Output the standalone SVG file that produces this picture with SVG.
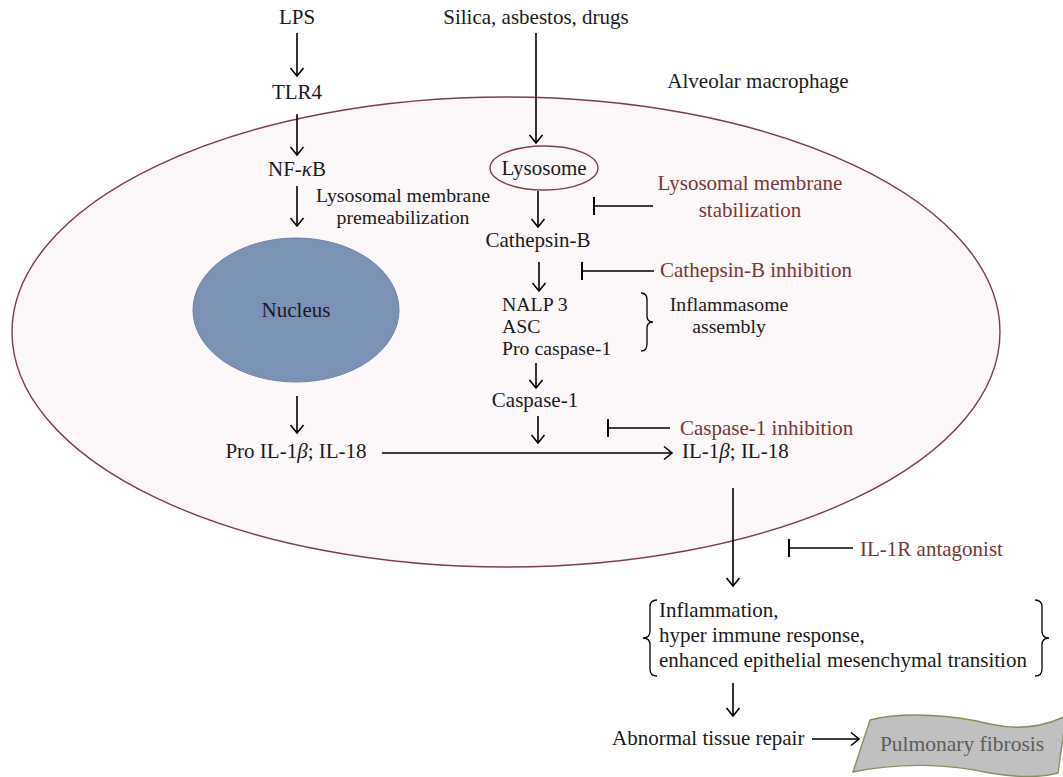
<svg xmlns="http://www.w3.org/2000/svg" width="1063" height="777" viewBox="0 0 1063 777">
<style>
text{font-family:"Liberation Serif","Times New Roman",serif;font-size:21px;fill:#1a1a1a}
.c{text-anchor:middle}
.s{font-size:19.8px}
.inh{fill:#7a3535}
.ln{fill:none;stroke:#000;stroke-width:1.6}
.ar{marker-end:url(#ah)}
.tb{marker-end:url(#tee)}
.br{fill:none;stroke:#000;stroke-width:1.3}
</style>
<defs>
<marker id="ah" viewBox="-10 -10 20 20" markerWidth="20" markerHeight="20" refX="0" refY="0" orient="auto" markerUnits="userSpaceOnUse">
<path d="M-8,-6.5 L0,0 L-8,6.5" fill="none" stroke="#000" stroke-width="1.6"/>
</marker>
<marker id="tee" viewBox="-10 -10 20 20" markerWidth="20" markerHeight="20" refX="0" refY="0" orient="auto" markerUnits="userSpaceOnUse">
<path d="M0,-9 L0,9" fill="none" stroke="#000" stroke-width="2"/>
</marker>
</defs>
<rect width="1063" height="777" fill="#fff"/>
<g id="cell">
<ellipse cx="506" cy="332" rx="494" ry="235" fill="#fcf8f9" stroke="#7a3f44" stroke-width="1.4"/>
<text class="c" x="758" y="88">Alveolar macrophage</text>
</g>
<g id="lps"><text class="c" x="297" y="24">LPS</text></g>
<g id="tlr4"><text class="c" x="297" y="99">TLR4</text></g>
<g id="nfkb"><text class="c" x="297" y="176">NF-<tspan font-style="italic">κ</tspan>B</text></g>
<g id="lmp"><text class="c s" x="403" y="202">Lysosomal membrane</text><text class="c s" x="403" y="224">premeabilization</text></g>
<g id="nucleus">
<ellipse cx="296" cy="310" rx="103" ry="72" fill="#7b91b6" stroke="#6d82a8" stroke-width="1"/>
<text class="c" x="296" y="317">Nucleus</text>
</g>
<g id="proil"><text class="c" x="296" y="458">Pro IL-1<tspan font-style="italic">β</tspan>; IL-18</text></g>
<g id="silica"><text class="c" x="536" y="24">Silica, asbestos, drugs</text></g>
<g id="lysosome">
<ellipse cx="544" cy="168" rx="54" ry="22" fill="#fcf8f9" stroke="#7a3f44" stroke-width="1.4"/>
<text class="c" x="544" y="175">Lysosome</text>
</g>
<g id="cathepsin"><text class="c" x="538" y="247">Cathepsin-B</text></g>
<g id="inflammasome">
<text class="s" x="502" y="311">NALP 3</text>
<text class="s" x="502" y="333">ASC</text>
<text class="s" x="502" y="355">Pro caspase-1</text>
<path class="br" d="M641,293 Q647,293 647,300 L647,316 Q647,322 653,322 Q647,322 647,328 L647,344 Q647,351 641,351"/>
<text class="c s" x="729" y="311">Inflammasome</text>
<text class="c s" x="729" y="333">assembly</text>
</g>
<g id="caspase1"><text class="c" x="535" y="407">Caspase-1</text></g>
<g id="il1b"><text x="682" y="458">IL-1<tspan font-style="italic">β</tspan>; IL-18</text></g>
<g id="lms"><text class="c inh" x="750" y="190">Lysosomal membrane</text><text class="c inh" x="750" y="217">stabilization</text></g>
<g id="cbi"><text class="inh" x="660" y="277">Cathepsin-B inhibition</text></g>
<g id="c1i"><text class="inh" x="680" y="435">Caspase-1 inhibition</text></g>
<g id="il1r"><text class="inh" x="860" y="556">IL-1R antagonist</text></g>
<g id="outcomes">
<path class="br" d="M657,600 Q650,600 650,607 L650,631 Q650,638 643,638 Q650,638 650,645 L650,669 Q650,676 657,676"/>
<text x="659" y="617">Inflammation,</text>
<text x="659" y="642">hyper immune response,</text>
<text x="659" y="667">enhanced epithelial mesenchymal transition</text>
<path class="br" d="M1035,600 Q1042,600 1042,607 L1042,631 Q1042,638 1049,638 Q1042,638 1042,645 L1042,669 Q1042,676 1035,676"/>
</g>
<g id="repair"><text x="612" y="745">Abnormal tissue repair</text></g>
<g id="fibrosis">
<path d="M870,720 C900,712 950,714 990,724 C1020,731 1045,726 1066,716 L1058,773 C1040,778 1020,778 990,773 C950,764 900,762 853,772 Z" fill="#c0c0c0" stroke="#8a8e5c" stroke-width="1.4"/>
<text class="c" x="962" y="751" style="font-size:21.5px;fill:#5c5c5c">Pulmonary fibrosis</text>
</g>
<g id="connectors">
<path class="ln ar" d="M297,33 L297,76"/>
<path class="ln ar" d="M297,114 L297,155"/>
<path class="ln ar" d="M297,186 L297,226"/>
<path class="ln ar" d="M297,396 L297,433"/>
<path class="ln ar" d="M382,453 L672,453"/>
<path class="ln ar" d="M536,33 L536,143"/>
<path class="ln ar" d="M538,191 L538,227"/>
<path class="ln ar" d="M539,262 L539,291"/>
<path class="ln ar" d="M536,363 L536,388"/>
<path class="ln ar" d="M538,416 L538,443"/>
<path class="ln ar" d="M733,488 L733,586"/>
<path class="ln ar" d="M733,683 L733,716"/>
<path class="ln ar" d="M812,739 L859,739"/>
<path class="ln tb" d="M653,206 L594,206"/>
<path class="ln tb" d="M654,271 L582,271"/>
<path class="ln tb" d="M670,428 L608,428"/>
<path class="ln tb" d="M853,548 L789,548"/>
</g>
</svg>
